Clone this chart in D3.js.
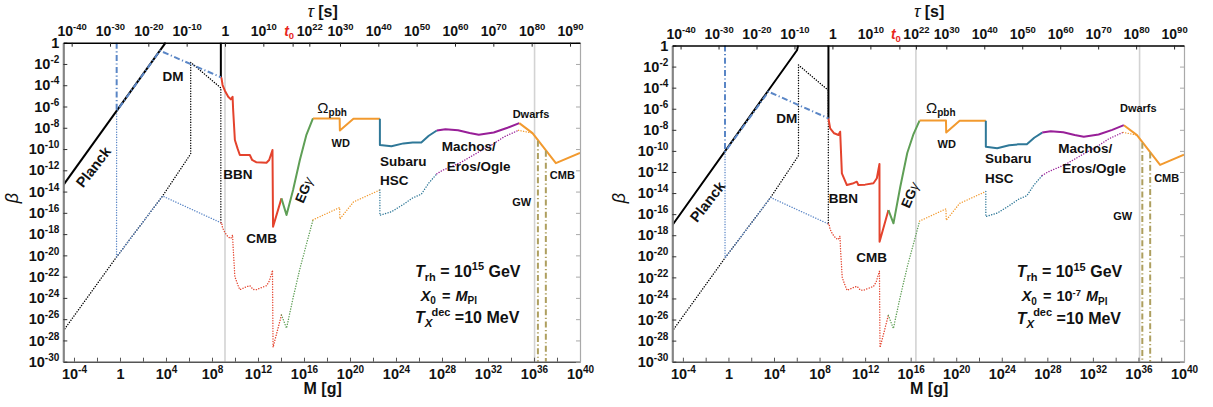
<!DOCTYPE html>
<html>
<head>
<meta charset="utf-8">
<script src="https://cdn.jsdelivr.net/npm/d3@7"></script>
<style>
  body { margin: 0; background: #fff; }
  svg { display: block; font-family: "Liberation Sans", Arial, Helvetica, sans-serif; }
</style>
</head>
<body>
<svg id="fig" width="1213" height="407"></svg>
<script>
// ------------------------------------------------------------------
// Values are stored as exponents: [log10(M / g), log10(beta)]
// ------------------------------------------------------------------
const massExpRange = [-4.93, 40];
const betaExpRange = [-30, 0];
const massTickExps = d3.range(-4, 41, 2);
const betaTickExps = d3.range(-30, 1, 2);
const tauTickExps = [-40, -30, -20, -10, 0, 10, 17.64, 22, 30, 40, 50, 60, 70, 80, 90];
const tauTickNames = ["-40", "-30", "-20", "-10", "1", "10", "t0", "22", "30", "40", "50", "60", "70", "80", "90"];
const tauShift = -27.39; // log10(tau/s) = 3 log10(M/g) + tauShift

// left panel (X0 = M_Pl)
const planckL = [[-4.93, -13.39], [3.97, 0]];
const dmL = [[-0.29, 0], [-0.29, -6.45], [3.47, -0.75], [8.77, -3.25]];
const edgeL = [[8.77, 0], [8.77, -3.25]];
const bbnL = [[8.77, -3.25], [8.83, -3.35], [8.92, -3.98], [9.12, -4.51], [9.41, -5.08], [9.64, -5.33],
  [9.79, -5.08], [9.84, -6.33], [9.99, -9.15], [10.22, -9.94], [10.42, -10.56], [11.29, -10.56],
  [11.49, -11.03], [11.87, -11.25], [12.74, -11.29], [12.97, -11.03], [13.26, -10.09], [13.31, -17.31],
  [14.04, -14.64]];
const egL = [[14.04, -14.64], [14.48, -16.21], [15.05, -13.86], [15.64, -11.03], [16.2, -8.7], [16.78, -7.12]];
const dmLowL = [[-0.29, -6.45], [-0.3, -20.15], [3.7, -14.42], [8.77, -16.93]];
const greyL = [9.13, 36.05];

// right panel (X0 = 1e-7 M_Pl)
const planckR = [[-4.93, -17.05], [6.02, -0.45], [6.12, 0]];
const dmR = [[-0.3, 0], [-0.3, -10.08], [3.51, -4.38], [8.78, -6.91]];
const edgeR = [[8.78, 0], [8.78, -6.93]];
const bbnR = [[8.78, -6.93], [8.93, -7.86], [9.28, -8.33], [9.66, -8.49], [9.81, -8.18], [9.96, -12.13],
  [10.4, -13.24], [10.9, -13.1], [11.27, -12.92], [11.41, -13.24], [12.0, -13.2], [12.73, -13.07],
  [13.03, -12.6], [13.26, -11.24], [13.27, -18.61], [14.05, -15.61]];
const egR = [[14.05, -15.61], [14.49, -16.87], [15.08, -13.45], [15.7, -10.2], [16.25, -8.4], [16.78, -7.12]];
const dmLowR = [[-0.3, -10.08], [-0.3, -20.15], [3.7, -14.42], [8.77, -16.93]];
const greyR = [16.46, 36.1];

// bounds common to both panels
const omegaUp = [[16.78, -7.12], [19.1, -7.12], [19.12, -8.26], [20.3, -7.15], [22.6, -7.15]];
const subaruUp = [[22.6, -7.15], [22.6, -9.61], [23.6, -9.74], [24.65, -9.47], [25.45, -9.38], [26.2, -9.38],
  [26.85, -8.75], [27.55, -8.26]];
const machoUp = [[27.55, -8.26], [28.3, -8.13], [29.4, -8.23], [30.4, -8.5], [31.2, -8.66], [32.5, -8.45],
  [33.7, -8.0], [34.72, -7.56]];
const cmbUp = [[34.72, -7.56], [35.87, -8.5], [37.9, -11.33], [40, -10.36]];

const planckLow = [[-4.93, -27.1], [-0.3, -20.15], [3.7, -14.42], [6.15, -10.45], [6.15, -1.85],
  [8.77, -4.25], [8.77, -16.93]];
const bbnLow = [[8.77, -16.93], [8.83, -16.9], [8.92, -17.42], [9.12, -17.85], [9.41, -18.28], [9.64, -18.41],
  [9.79, -18.08], [9.84, -19.3], [9.99, -22.0], [10.22, -22.7], [10.42, -23.23], [11.0, -22.95],
  [11.29, -22.85], [11.58, -23.2], [11.87, -23.22], [12.74, -22.85], [12.97, -22.44], [13.26, -21.4],
  [13.31, -28.65], [14.04, -25.6]];
const egLow = [[14.04, -25.6], [14.48, -26.85], [15.05, -24.0], [15.7, -21.0], [16.3, -18.6], [16.78, -16.66]];
const omegaLow = [[16.78, -16.66], [19.1, -15.5], [19.12, -16.58], [20.3, -14.98], [22.6, -13.85]];
const subaruLow = [[22.6, -13.85], [22.6, -16.23], [23.6, -15.9], [24.65, -15.2], [25.45, -14.6],
  [26.2, -14.25], [26.85, -13.2], [27.55, -12.33]];
const machoLow = [[27.55, -12.33], [28.05, -12.0], [29.6, -11.28], [31.4, -10.15], [32.2, -9.7],
  [33.4, -8.85], [34.65, -8.24]];
const cmbLow = [[34.65, -8.24], [35.87, -8.5]];

const gwLines = [[[36.34, -9.22], [36.34, -30]], [[37.03, -10.15], [37.03, -30]]];

// ------------------------------------------------------------------
const C = {
  red: "#e4432d", green: "#5f9f56", orange: "#f29a2f", teal: "#2f7898",
  purple: "#981f98", dm: "#5a86c6", olive: "#ae9f5f", grey: "#d3d3d3", ink: "#111"
};
const svg = d3.select("#fig");

// Rich text: parts are strings or [string, {size, dy, italic, weight, fill, dx}]
function rich(g, x, y, parts, opt = {}) {
  const t = g.append("text")
    .attr("x", x).attr("y", y)
    .attr("text-anchor", opt.anchor || "start")
    .attr("font-weight", opt.weight || "bold")
    .attr("font-size", opt.size || 13.5)
    .attr("fill", opt.fill || C.ink);
  if (opt.rotate) t.attr("transform", `rotate(${opt.rotate},${x},${y})`);
  let shift = 0;
  parts.forEach(p => {
    const [s, o] = typeof p === "string" ? [p, {}] : [p[0], p[1] || {}];
    const ts = t.append("tspan").text(s);
    const target = o.dy || 0;
    if (target !== shift) { ts.attr("dy", target - shift); shift = target; }
    if (o.dx) ts.attr("dx", o.dx);
    if (o.size) ts.attr("font-size", o.size);
    if (o.italic) ts.attr("font-style", "italic");
    if (o.weight) ts.attr("font-weight", o.weight);
    if (o.fill) ts.attr("fill", o.fill);
  });
  if (opt.baselineShift) t.attr("dy", opt.baselineShift);
  return t;
}

function powerLabel(sel, exp, supSize) {
  sel.text(null);
  if (exp === 0) { sel.append("tspan").text("1"); return; }
  sel.append("tspan").text("10");
  sel.append("tspan").attr("dy", -6).attr("font-size", supSize || 10).text(String(exp));
}

function styleAxis(g, color, width, size) {
  g.attr("font-family", null).attr("font-size", null);
  g.select(".domain").attr("stroke", color).attr("stroke-width", width);
  g.selectAll(".tick line").attr("stroke", color === "#000" ? "#222" : color).attr("stroke-width", 1);
  g.selectAll(".tick text").attr("fill", C.ink).attr("font-weight", "bold").attr("font-size", size || 14.5);
}

function drawPanel(cfg) {
  const b = cfg.box;
  const x = d3.scaleLog().domain(massExpRange.map(e => 10 ** e)).range([b.x0, b.x1]);
  const y = d3.scaleLog().domain(betaExpRange.map(e => 10 ** e)).range([b.y1, b.y0]);
  const tau = d3.scaleLog()
    .domain(massExpRange.map(e => 10 ** (3 * e + tauShift)))
    .range([b.x0, b.x1]);
  const line = d3.line().x(d => x(10 ** d[0])).y(d => y(10 ** d[1]));

  const clipId = "clip-" + cfg.id;
  svg.append("clipPath").attr("id", clipId).append("rect")
    .attr("x", b.x0).attr("y", b.y0 - 1).attr("width", b.x1 - b.x0).attr("height", b.y1 - b.y0 + 1);
  const plot = svg.append("g").attr("clip-path", `url(#${clipId})`);

  // reference lifetimes
  plot.selectAll("line.ref").data(cfg.grey).join("line").attr("class", "ref")
    .attr("x1", d => x(10 ** d)).attr("x2", d => x(10 ** d))
    .attr("y1", b.y0).attr("y2", b.y1)
    .attr("stroke", C.grey).attr("stroke-width", 1.6);

  const dotted = { w: 1.4, dash: "0.1 2.5", cap: "round" };
  const dashDot = { w: 2, dash: "6 2.5 1.2 2.5", cap: "butt" };
  const solid = { w: 2, dash: null, cap: "butt" };

  const curves = [
    // lower (dotted) family
    { pts: planckLow, color: "#000", ...dotted },
    { pts: cfg.dmLow, color: C.dm, ...dotted },
    { pts: bbnLow, color: C.red, ...dotted },
    { pts: egLow, color: C.green, ...dotted },
    { pts: omegaLow, color: C.orange, ...dotted },
    { pts: subaruLow, color: C.teal, ...dotted },
    { pts: machoLow, color: C.purple, ...dotted },
    { pts: cmbLow, color: C.orange, ...dotted },
    // upper (solid) family
    { pts: cfg.planck, color: "#000", ...solid },
    { pts: cfg.edge, color: "#000", ...solid },
    { pts: cfg.bbn, color: C.red, ...solid },
    { pts: cfg.eg, color: C.green, ...solid },
    { pts: omegaUp, color: C.orange, ...solid },
    { pts: subaruUp, color: C.teal, ...solid },
    { pts: machoUp, color: C.purple, ...solid },
    { pts: cmbUp, color: C.orange, ...solid },
    { pts: cfg.dm, color: C.dm, ...dashDot },
    ...gwLines.map(p => ({ pts: p, color: C.olive, ...dashDot }))
  ];
  plot.selectAll("path.curve").data(curves).join("path").attr("class", "curve")
    .attr("d", c => line(c.pts))
    .attr("fill", "none")
    .attr("stroke", c => c.color)
    .attr("stroke-width", c => c.w)
    .attr("stroke-dasharray", c => c.dash)
    .attr("stroke-linecap", c => c.cap)
    .attr("stroke-linejoin", "round");

  // axes / frame
  const gBottom = svg.append("g").attr("transform", `translate(0,${b.y1})`)
    .call(d3.axisBottom(x).tickValues(massTickExps.map(e => 10 ** e))
      .tickSize(-4).tickSizeOuter(0).tickPadding(7));
  styleAxis(gBottom, "#555", 1.6);
  gBottom.selectAll(".tick text").each(function (d, i) {
    const e = massTickExps[i];
    if (e % 4 === 0) powerLabel(d3.select(this), e); else d3.select(this).text("");
  });

  const gLeft = svg.append("g").attr("transform", `translate(${b.x0},0)`)
    .call(d3.axisLeft(y).tickValues(betaTickExps.map(e => 10 ** e))
      .tickSize(-4).tickSizeOuter(0).tickPadding(4));
  styleAxis(gLeft, "#858585", 2.2);
  gLeft.selectAll(".tick line").attr("stroke", "#333");
  gLeft.selectAll(".tick text").each(function (d, i) { powerLabel(d3.select(this), betaTickExps[i]); });

  const gRight = svg.append("g").attr("transform", `translate(${b.x1},0)`)
    .call(d3.axisRight(y).tickValues(betaTickExps.map(e => 10 ** e))
      .tickSize(-4).tickSizeOuter(0).tickFormat(() => ""));
  styleAxis(gRight, "#a9a9a9", 1.2);

  const gTop = svg.append("g").attr("transform", `translate(0,${b.y0})`)
    .call(d3.axisTop(tau).tickValues(tauTickExps.map(e => 10 ** e))
      .tickSize(-4).tickSizeOuter(0).tickPadding(7));
  styleAxis(gTop, "#000", 1.6, 14);
  gTop.selectAll(".tick text").each(function (d, i) {
    const sel = d3.select(this);
    const name = tauTickNames[i];
    if (name === "t0") {
      sel.text(null);
      sel.append("tspan").text("t").attr("font-style", "italic").attr("fill", "#e8261c");
      sel.append("tspan").text("0").attr("font-size", 9.5).attr("dy", 3).attr("fill", "#e8261c");
      sel.attr("dx", -4);
    } else if (name === "1") {
      powerLabel(sel, 0);
    } else {
      powerLabel(sel, +name, 9.5);
    }
  });

  // axis titles
  const cx = (b.x0 + b.x1) / 2 + 1;
  rich(svg, cx, 17, [["\u03c4", { italic: true, weight: "normal", size: 17 }], " [s]"],
    { anchor: "middle", size: 16 });
  rich(svg, cx, 394, ["M [g]"], { anchor: "middle", size: 16 });
  rich(svg, cfg.betaX, 198, [["\u03b2", { italic: true }]],
    { anchor: "middle", size: 18, weight: "normal", rotate: -90 });

  // annotations (offsets from the plot's top-left corner)
  const ann = svg.append("g").attr("transform", `translate(${b.x0},${b.y0})`);
  cfg.labels.forEach(l => rich(ann, l.at[0], l.at[1], l.parts, l.opt || {}));
}

function labelSet(L, x0text) {
  return [
    { at: L.planck, parts: ["Planck"], opt: { anchor: "middle", size: 14.5, rotate: -52, baselineShift: "0.35em" } },
    { at: L.dm, parts: ["DM"], opt: { anchor: "middle" } },
    { at: L.bbn, parts: ["BBN"], opt: { anchor: "middle" } },
    { at: L.cmb, parts: ["CMB"], opt: { anchor: "middle" } },
    { at: L.eg, parts: ["EG", ["\u03b3", { italic: true, weight: "normal" }]],
      opt: { anchor: "middle", rotate: -67, baselineShift: "0.35em" } },
    { at: L.omega, parts: [["\u03a9", { weight: "normal", size: 15 }], ["pbh", { size: 10, dy: 2.5 }]] },
    { at: L.wd, parts: ["WD"], opt: { anchor: "middle", size: 11 } },
    { at: L.subaru, parts: ["Subaru"] },
    { at: L.hsc, parts: ["HSC"] },
    { at: L.machos, parts: ["Machos/"] },
    { at: L.eros, parts: ["Eros/Ogle"] },
    { at: L.dwarfs, parts: ["Dwarfs"], opt: { anchor: "middle", size: 11 } },
    { at: L.cmb2, parts: ["CMB"], opt: { anchor: "middle", size: 11 } },
    { at: L.gw, parts: ["GW"], opt: { anchor: "middle", size: 11 } },
    { at: L.trh, parts: [["T", { italic: true }], ["rh", { size: 11, dy: 4 }], " = 10",
      ["15", { size: 11, dy: -6.5 }], " GeV"], opt: { size: 16 } },
    { at: L.x0, parts: x0text, opt: { size: 14.5 } },
    { at: L.tx, parts: [["T", { italic: true }], ["X", { italic: true, size: 11.5, dy: 4 }],
      ["dec", { size: 11, dy: -7.5, dx: -1 }], " =10 MeV"], opt: { size: 16 } }
  ];
}

const x0Left = [["X", { italic: true }], ["0", { size: 10, dy: 3.5 }], [" =", { dx: 2 }],
  ["M", { italic: true, dx: 5 }], ["Pl", { size: 10, dy: 3.5 }]];
const x0Right = [["X", { italic: true }], ["0", { size: 10, dy: 3.5 }], [" =", { dx: 2 }], ["10", { dx: 5 }],
  ["-7", { size: 9.5, dy: -5 }], ["M", { italic: true, dx: 5 }], ["Pl", { size: 10, dy: 3.5 }]];

drawPanel({
  id: "a",
  box: { x0: 63.3, x1: 580, y0: 42.7, y1: 361.7 },
  planck: planckL, dm: dmL, edge: edgeL, bbn: bbnL, eg: egL, dmLow: dmLowL, grey: greyL,
  betaX: 18,
  labels: labelSet({
    planck: [30.1, 124.3], dm: [109.7, 38.1], bbn: [174.7, 136.1], cmb: [198.4, 200.4],
    eg: [240.7, 147.3], omega: [254, 70.6], wd: [277.4, 104.5],
    subaru: [316.7, 123.1], hsc: [316.7, 142.1], machos: [378.4, 108.8], eros: [383.4, 128.8],
    dwarfs: [467.7, 75.5], cmb2: [499, 136.2], gw: [458.4, 162.9],
    trh: [351.7, 234.3], x0: [357.4, 258.3], tx: [351.7, 280.8]
  }, x0Left)
});

drawPanel({
  id: "b",
  box: { x0: 672.3, x1: 1184, y0: 45.5, y1: 361.7 },
  planck: planckR, dm: dmR, edge: edgeR, bbn: bbnR, eg: egR, dmLow: dmLowR, grey: greyR,
  betaX: 625,
  labels: labelSet({
    planck: [35.2, 156.2], dm: [114.4, 77.6], bbn: [171, 157.3], cmb: [199.4, 216],
    eg: [237.7, 149.5], omega: [253.7, 67.8], wd: [274.4, 102.7],
    subaru: [312.7, 117.6], hsc: [312.7, 137.6], machos: [386, 107.6], eros: [390, 127.6],
    dwarfs: [466, 66.7], cmb2: [494.4, 136.7], gw: [450.4, 174.4],
    trh: [344.4, 231.5], x0: [349.4, 255.5], tx: [344.4, 278]
  }, x0Right)
});
</script>
</body>
</html>
